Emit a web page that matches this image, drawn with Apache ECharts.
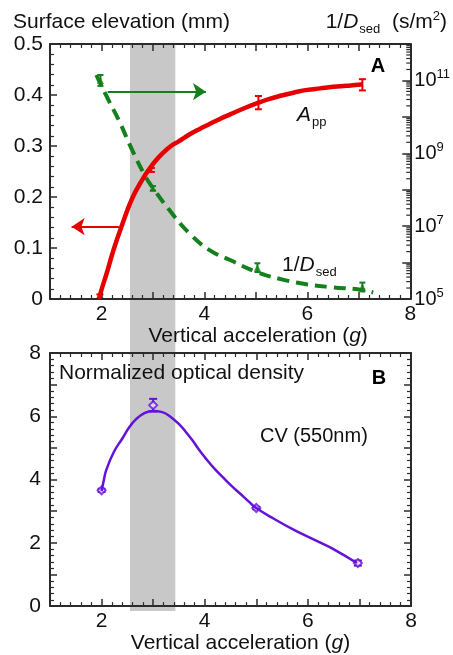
<!DOCTYPE html>
<html>
<head>
<meta charset="utf-8">
<script src="https://cdn.jsdelivr.net/npm/echarts@6/dist/echarts.min.js"></script>
<style>
html, body { margin: 0; padding: 0; background: #fff; }
#chart { width: 453px; height: 655px; }
</style>
</head>
<body>
<div id="chart"></div>
<script>
// panel A, red: surface elevation A_pp (mm) vs vertical acceleration (g)
const appX = [1.95, 2.0, 2.1, 2.24, 2.4, 2.6, 2.8, 2.93, 3.06, 3.2, 3.35, 3.5, 3.7, 3.9, 4.1, 4.3, 4.5, 4.75, 5.0, 5.25, 5.5, 5.75, 6.0, 6.25, 6.5, 6.75, 7.0, 7.08];
const appY = [0.0, 0.018, 0.05, 0.098, 0.145, 0.198, 0.235, 0.255, 0.272, 0.287, 0.3, 0.309, 0.322, 0.333, 0.343, 0.353, 0.362, 0.373, 0.383, 0.392, 0.399, 0.405, 0.41, 0.413, 0.416, 0.418, 0.42, 0.421];
const appErrX = [1.97, 2.97, 5.05, 7.07];
const appErrY = [0.005, 0.253, 0.385, 0.42];
const appErrD = [0.004, 0.004, 0.013, 0.011];

// panel A, green dashed: 1/D_sed (s/m^2), stored as log10 exponent
const dsedX = [1.9, 2.0, 2.14, 2.34, 2.6, 2.86, 3.0, 3.32, 3.71, 4.1, 4.5, 5.0, 5.5, 6.0, 6.5, 7.0, 7.28];
const dsedExp = [11.15, 10.85, 10.45, 9.9, 9.08, 8.35, 8.05, 7.44, 6.8, 6.34, 6.07, 5.75, 5.54, 5.4, 5.32, 5.26, 5.18];
const dsedPtX = [1.98, 3.0, 5.03, 7.07];
const dsedPtExp = [11.0, 8.04, 5.86, 5.33];
const dsedPtD = [0.15, 0.06, 0.12, 0.12];

// panel B, purple: normalized optical density, CV (550nm)
const odX = [2.0, 2.04, 2.09, 2.24, 2.4, 2.54, 2.67, 2.83, 2.99, 3.16, 3.31, 3.52, 3.65, 3.78, 3.89, 4.0, 4.18, 4.36, 4.52, 4.69, 4.85, 5.0, 5.34, 5.74, 6.13, 6.52, 6.95];
const odY = [3.64, 3.95, 4.3, 4.88, 5.29, 5.66, 5.91, 6.1, 6.17, 6.14, 6.02, 5.72, 5.47, 5.2, 4.94, 4.71, 4.36, 4.06, 3.8, 3.55, 3.31, 3.1, 2.76, 2.4, 2.09, 1.78, 1.36];
const odPtX = [2.0, 3.0, 5.0, 6.97];
const odPtY = [3.66, 6.35, 3.1, 1.36];
const odPtD = [0.05, 0.2, 0.04, 0.08];

// shaded acceleration range
const bandX = [2.55, 3.43];

// tick labels
const xLabels = [2, 4, 6, 8];
const yLabelsB = [0, 2, 4, 6, 8];
const expLabels = [5, 7, 9, 11];
const logDecades = [5, 6, 7, 8, 9, 10, 11];
const logMinor = [2, 3, 4, 5, 6, 7, 8, 9];

const RED = '#e60000';
const GREEN = '#14801c';
const PURPLE = '#6512d8';
const AXIS = '#2b2b2b';
const FONT = 'Liberation Sans, Arial, sans-serif';

let chart = echarts.init(document.getElementById('chart'));

const zip = (xs, ys) => xs.map((x, i) => [x, ys[i]]);
const zip3 = (xs, ys, ds) => xs.map((x, i) => [x, ys[i], ds[i]]);

function errBars(color, cap, lw) {
	return function (params, api) {
		let x = api.value(0), y = api.value(1), d = api.value(2);
		let top = api.coord([x, y + d]);
		let bot = api.coord([x, y - d]);
		let st = { stroke: color, lineWidth: lw };
		return {
			type: 'group',
			children: [
				{ type: 'line', shape: { x1: top[0], y1: top[1], x2: bot[0], y2: bot[1] }, style: st },
				{ type: 'line', shape: { x1: top[0] - cap, y1: top[1], x2: top[0] + cap, y2: top[1] }, style: st },
				{ type: 'line', shape: { x1: bot[0] - cap, y1: bot[1], x2: bot[0] + cap, y2: bot[1] }, style: st }
			]
		};
	};
}

function xAxisOf(grid, pos, labels) {
	return {
		gridIndex: grid, type: 'value', position: pos, min: 1, max: 8, interval: 1, z: 3,
		axisLine: { onZero: false, lineStyle: { color: AXIS, width: 2 } },
		axisTick: { inside: true, length: 7, lineStyle: { color: AXIS, width: 1.5 } },
		minorTick: { show: true, splitNumber: 5, length: 4, lineStyle: { color: AXIS, width: 1.2 } },
		splitLine: { show: false },
		axisLabel: labels ? {
			margin: 5, color: '#111', fontSize: 21, fontFamily: FONT,
			formatter: v => xLabels.includes(v) ? String(v) : ''
		} : { show: false }
	};
}

function yAxisOf(grid, pos, opts) {
	return Object.assign({
		gridIndex: grid, type: 'value', position: pos, z: 3,
		axisLine: { onZero: false, lineStyle: { color: AXIS, width: 2 } },
		axisTick: { inside: true, length: 7, lineStyle: { color: AXIS, width: 1.5 } },
		minorTick: { show: true, splitNumber: 5, length: 4, lineStyle: { color: AXIS, width: 1.2 } },
		splitLine: { show: false },
		axisLabel: { show: false }
	}, opts);
}

const nameRich = {
	n: { fontSize: 21, fontFamily: FONT, color: '#111' },
	i: { fontSize: 21, fontFamily: FONT, fontStyle: 'italic', color: '#111' }
};

let option = {
	animation: false,
	backgroundColor: '#fff',
	grid: [
		{ left: 50, top: 44, width: 361, height: 255 },
		{ left: 50, top: 353, width: 361, height: 258 },
		{ left: 50, top: 44, width: 361, height: 567 }
	],
	xAxis: [
		Object.assign(xAxisOf(0, 'bottom', true), {
			name: '{n|Vertical acceleration (}{i|g}{n|)}', nameLocation: 'middle', nameGap: 18,
			nameTextStyle: { rich: nameRich, padding: [0, 0, 0, 56] }
		}),
		xAxisOf(0, 'top', false),
		Object.assign(xAxisOf(1, 'bottom', true), {
			name: '{n|Vertical acceleration (}{i|g}{n|)}', nameLocation: 'middle', nameGap: 22,
			nameTextStyle: { rich: nameRich, padding: [0, 0, 0, 20] }
		}),
		xAxisOf(1, 'top', false),
		{ gridIndex: 2, type: 'value', min: 1, max: 8, show: false }
	],
	yAxis: [
		yAxisOf(0, 'left', {
			min: 0, max: 0.5, interval: 0.1,
			axisLabel: { margin: 7, color: '#111', fontSize: 21, fontFamily: FONT }
		}),
		yAxisOf(0, 'right', {
			min: 5, max: 12, interval: 1,
			axisTick: { inside: true, length: 8, lineStyle: { color: AXIS, width: 1.5 } },
			minorTick: { show: false },
			axisLabel: {
				margin: 4, color: '#111', fontFamily: FONT,
				formatter: v => expLabels.includes(v) ? '{b|10}{s|' + v + '}' : '',
				rich: {
					b: { fontSize: 20, fontFamily: FONT, color: '#111' },
					s: { fontSize: 13, fontFamily: FONT, color: '#111', padding: [0, 0, 12, 0] }
				}
			}
		}),
		yAxisOf(1, 'left', {
			min: 0, max: 8, interval: 1,
			axisLabel: {
				margin: 9, color: '#111', fontSize: 21, fontFamily: FONT,
				formatter: v => yLabelsB.includes(v) ? String(v) : ''
			}
		}),
		yAxisOf(1, 'right', { min: 0, max: 8, interval: 1 }),
		{ gridIndex: 2, type: 'value', min: 0, max: 1, show: false }
	],
	graphic: [
		{ type: 'text', x: 13, y: 22, style: { text: 'Surface elevation (mm)', font: '21px ' + FONT, fill: '#111', verticalAlign: 'middle' } },
		{
			type: 'text', x: 447, y: 22, style: {
				text: '{n|1/}{i|D}{sub|sed}{n|  (s/m}{sup|2}{n|)}', align: 'right', verticalAlign: 'middle',
				rich: {
					n: { font: '21px ' + FONT, fill: '#111' },
					i: { font: 'italic 21px ' + FONT, fill: '#111' },
					sub: { font: '13px ' + FONT, fill: '#111', padding: [14, 0, 0, 1] },
					sup: { font: '13px ' + FONT, fill: '#111', padding: [0, 0, 11, 0] }
				}
			}
		},
		{ type: 'text', x: 378, y: 66, style: { text: 'A', font: 'bold 20px ' + FONT, fill: '#000', align: 'center', verticalAlign: 'middle' } },
		{
			type: 'text', x: 297, y: 115, style: {
				text: '{i|A}{sub|pp}', verticalAlign: 'middle',
				rich: {
					i: { font: 'italic 21px ' + FONT, fill: '#111' },
					sub: { font: '13px ' + FONT, fill: '#111', padding: [14, 0, 0, 1] }
				}
			}
		},
		{
			type: 'text', x: 282, y: 265, style: {
				text: '{n|1/}{i|D}{sub|sed}', verticalAlign: 'middle',
				rich: {
					n: { font: '21px ' + FONT, fill: '#111' },
					i: { font: 'italic 21px ' + FONT, fill: '#111' },
					sub: { font: '13px ' + FONT, fill: '#111', padding: [14, 0, 0, 1] }
				}
			}
		},
		{ type: 'text', x: 59, y: 373, style: { text: 'Normalized optical density', font: '21px ' + FONT, fill: '#111', verticalAlign: 'middle' } },
		{ type: 'text', x: 379, y: 378, style: { text: 'B', font: 'bold 20px ' + FONT, fill: '#000', align: 'center', verticalAlign: 'middle' } },
		{ type: 'text', x: 260, y: 436, style: { text: 'CV (550nm)', font: '20px ' + FONT, fill: '#111', verticalAlign: 'middle' } }
	],
	series: [
		{
			// grey band across both panels
			type: 'custom', xAxisIndex: 4, yAxisIndex: 4, z: -1, silent: true,
			data: [[bandX[0], bandX[1]]],
			renderItem: function (params, api) {
				let a = api.coord([api.value(0), 1]);
				let b = api.coord([api.value(1), 0]);
				return { type: 'rect', shape: { x: a[0], y: a[1], width: b[0] - a[0], height: b[1] - a[1] }, style: { fill: '#c8c8c8' } };
			}
		},
		{
			// log minor ticks on the right axis of panel A
			type: 'custom', xAxisIndex: 0, yAxisIndex: 1, z: 3, silent: true,
			data: logDecades.flatMap(n => logMinor.map(k => [n, k])),
			renderItem: function (params, api) {
				let p = api.coord([8, api.value(0) + Math.log10(api.value(1))]);
				return { type: 'line', shape: { x1: p[0] - 4, y1: p[1], x2: p[0], y2: p[1] }, style: { stroke: AXIS, lineWidth: 1.2 } };
			}
		},
		{
			type: 'line', xAxisIndex: 0, yAxisIndex: 1, data: zip(dsedX, dsedExp),
			symbol: 'none', smooth: 0.45,
			lineStyle: { color: GREEN, width: 4, type: [12, 7] }
		},
		{
			type: 'scatter', xAxisIndex: 0, yAxisIndex: 1, data: zip(dsedPtX, dsedPtExp),
			symbol: 'triangle', symbolSize: 7, itemStyle: { color: GREEN }
		},
		{
			type: 'custom', xAxisIndex: 0, yAxisIndex: 1, data: zip3(dsedPtX, dsedPtExp, dsedPtD),
			renderItem: errBars(GREEN, 3, 2)
		},
		{
			type: 'line', xAxisIndex: 0, yAxisIndex: 0, data: zip(appX, appY),
			symbol: 'none', smooth: 0.45,
			lineStyle: { color: RED, width: 4.5 }
		},
		{
			type: 'custom', xAxisIndex: 0, yAxisIndex: 0, data: zip3(appErrX, appErrY, appErrD),
			renderItem: errBars(RED, 3.5, 2)
		},
		{
			type: 'lines', coordinateSystem: 'cartesian2d', xAxisIndex: 0, yAxisIndex: 0,
			symbol: ['none', 'arrow'], symbolSize: 13,
			lineStyle: { width: 2, opacity: 1 },
			data: [
				{ coords: [[2.12, 0.4065], [4.03, 0.4065]], lineStyle: { color: GREEN } },
				{ coords: [[2.34, 0.1418], [1.42, 0.1418]], lineStyle: { color: RED } }
			]
		},
		{
			type: 'line', xAxisIndex: 2, yAxisIndex: 2, data: zip(odX, odY),
			symbol: 'none', smooth: 0.45,
			lineStyle: { color: PURPLE, width: 2.5 }
		},
		{
			type: 'custom', xAxisIndex: 2, yAxisIndex: 2, data: zip3(odPtX, odPtY, odPtD),
			renderItem: errBars(PURPLE, 4, 2)
		},
		{
			type: 'scatter', xAxisIndex: 2, yAxisIndex: 2, data: zip(odPtX, odPtY),
			symbol: 'emptyDiamond', symbolSize: 8, itemStyle: { color: PURPLE, borderWidth: 2 }
		}
	]
};

chart.setOption(option);
</script>
</body>
</html>
